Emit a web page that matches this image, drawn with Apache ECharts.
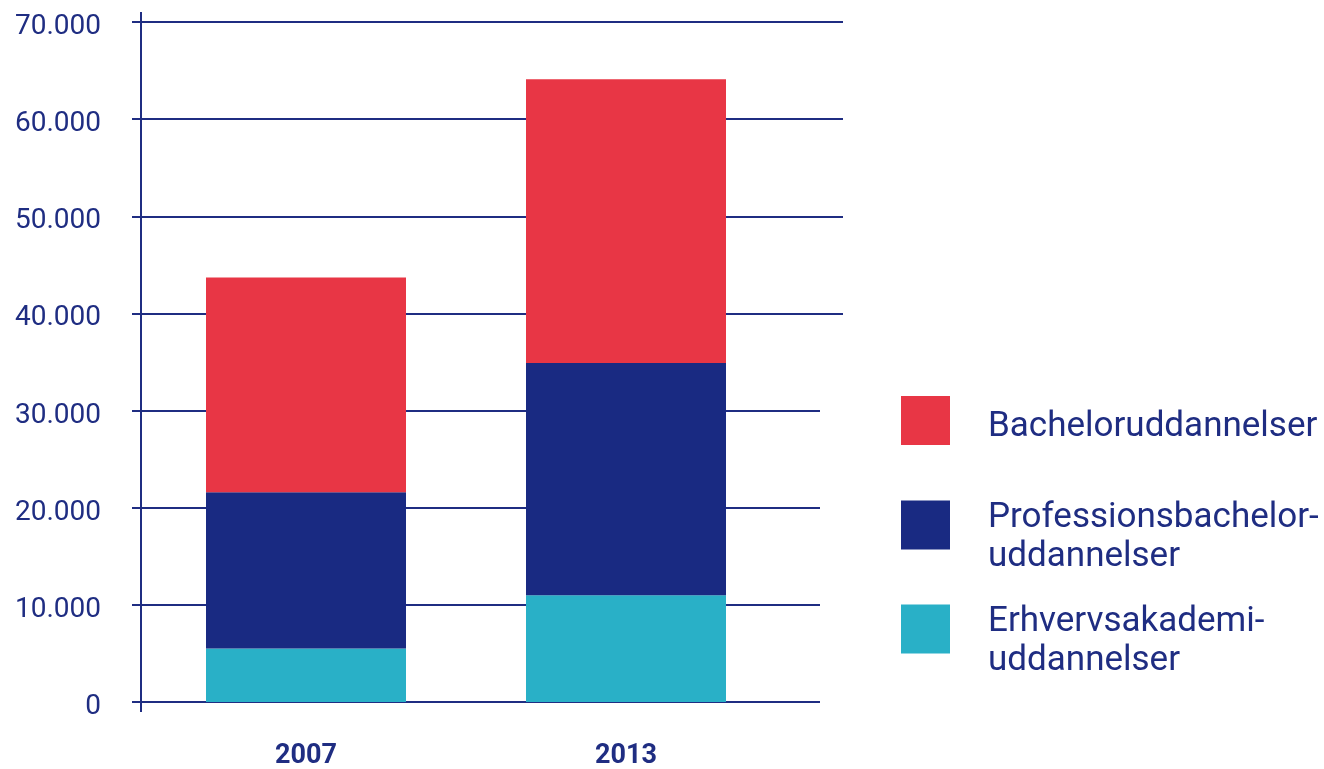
<!DOCTYPE html>
<html>
<head>
<meta charset="utf-8">
<script src="https://cdn.jsdelivr.net/npm/echarts@6/dist/echarts.min.js"></script>
<style>html,body{margin:0;padding:0;background:#fff}#c{width:1324px;height:769px}</style>
</head>
<body>
<div id="c"></div>
<script>
const categories = ['2007', '2013'];
const erhvervsakademi = [5500, 11000];
const professionsbachelor = [16100, 23900];
const bachelor = [22100, 29200];
const yTicks = [0, 10000, 20000, 30000, 40000, 50000, 60000, 70000];
const seriesNames = ['Bacheloruddannelser', 'Professionsbachelor-\nuddannelser', 'Erhvervsakademi-\nuddannelser'];

const NAVY = '#1f2d82';
const RED = '#e83645';
const BARNAVY = '#192a82';
const TEAL = '#29b0c7';
const FONT = 'Roboto';
const T = 'transparent';

const yMin = yTicks[0], yMax = yTicks[yTicks.length - 1], yInt = yTicks[1] - yTicks[0];
const fmt = v => String(v).replace(/\B(?=(\d{3})+(?!\d))/g, '.');

const chart = echarts.init(document.getElementById('c'));

function legend(name, top, spacer) {
  return {
    data: [name], left: 901, top: top, orient: 'vertical', padding: 0,
    icon: 'rect', itemWidth: 49, itemHeight: 49, selectedMode: false,
    formatter: n => '{s| }\n' + n.split('\n').map(l => '{a|' + l + '}').join('\n'),
    textStyle: {
      fontFamily: FONT, fontSize: 35, color: NAVY, padding: [0, 0, 0, 33],
      rich: {
        s: { fontFamily: FONT, fontSize: 10, lineHeight: spacer, color: NAVY },
        a: { fontFamily: FONT, fontSize: 35, lineHeight: 39, color: NAVY }
      }
    }
  };
}

chart.setOption({
  animation: false,
  backgroundColor: '#fff',
  grid: [
    { left: 146, width: 640, top: 22, height: 680, outerBoundsMode: 'none' },
    { left: 141, right: 1324 - 843, top: 22, height: 680, outerBoundsMode: 'none' },
    { left: 141, right: 1324 - 820, top: 22, height: 680, outerBoundsMode: 'none' }
  ],
  xAxis: [
    { gridIndex: 0, type: 'category', data: categories,
      axisLine: { show: false }, axisTick: { show: false },
      axisLabel: { fontFamily: FONT, fontSize: 27, fontWeight: 'bold', color: NAVY, margin: 41 } },
    { gridIndex: 1, type: 'value', min: 0, max: 100, position: 'bottom',
      axisLine: { show: false }, axisLabel: { show: false }, splitLine: { show: false },
      axisTick: { show: true, customValues: [0], length: 10, lineStyle: { color: NAVY, width: 2 } } },
    { gridIndex: 1, type: 'value', min: 0, max: 100, position: 'top',
      axisLine: { show: false }, axisLabel: { show: false }, splitLine: { show: false },
      axisTick: { show: true, customValues: [0], length: 10, lineStyle: { color: NAVY, width: 2 } } },
    { gridIndex: 2, type: 'value', min: 0, max: 100, show: false }
  ],
  yAxis: [
    { gridIndex: 0, type: 'value', min: yMin, max: yMax, interval: yInt, show: false },
    { gridIndex: 1, type: 'value', min: yMin, max: yMax, interval: yInt,
      axisLine: { show: true, lineStyle: { color: NAVY, width: 2 } },
      axisTick: { show: true, length: 9, lineStyle: { color: NAVY, width: 2 } },
      axisLabel: { fontFamily: FONT, fontSize: 28, color: NAVY, margin: 40, formatter: fmt,
        verticalAlign: 'top', lineHeight: 10 },
      splitLine: { show: true, lineStyle: { width: 2, color: [T, T, T, T, NAVY, NAVY, NAVY, NAVY] } } },
    { gridIndex: 2, type: 'value', min: yMin, max: yMax, interval: yInt,
      axisLine: { show: false }, axisTick: { show: false }, axisLabel: { show: false },
      splitLine: { show: true, lineStyle: { width: 2, color: [NAVY, NAVY, NAVY, NAVY, T, T, T, T] } } }
  ],
  legend: [
    legend(seriesNames[0], 396, 14),
    legend(seriesNames[1], 481, 25),
    legend(seriesNames[2], 585, 25)
  ],
  series: [
    { name: seriesNames[2], type: 'bar', stack: 's', xAxisIndex: 0, yAxisIndex: 0, barWidth: 200,
      itemStyle: { color: TEAL }, data: erhvervsakademi, z: 3 },
    { name: seriesNames[1], type: 'bar', stack: 's', xAxisIndex: 0, yAxisIndex: 0, barWidth: 200,
      itemStyle: { color: BARNAVY }, data: professionsbachelor, z: 3 },
    { name: seriesNames[0], type: 'bar', stack: 's', xAxisIndex: 0, yAxisIndex: 0, barWidth: 200,
      itemStyle: { color: RED }, data: bachelor, z: 3 }
  ]
});
</script>
</body>
</html>
